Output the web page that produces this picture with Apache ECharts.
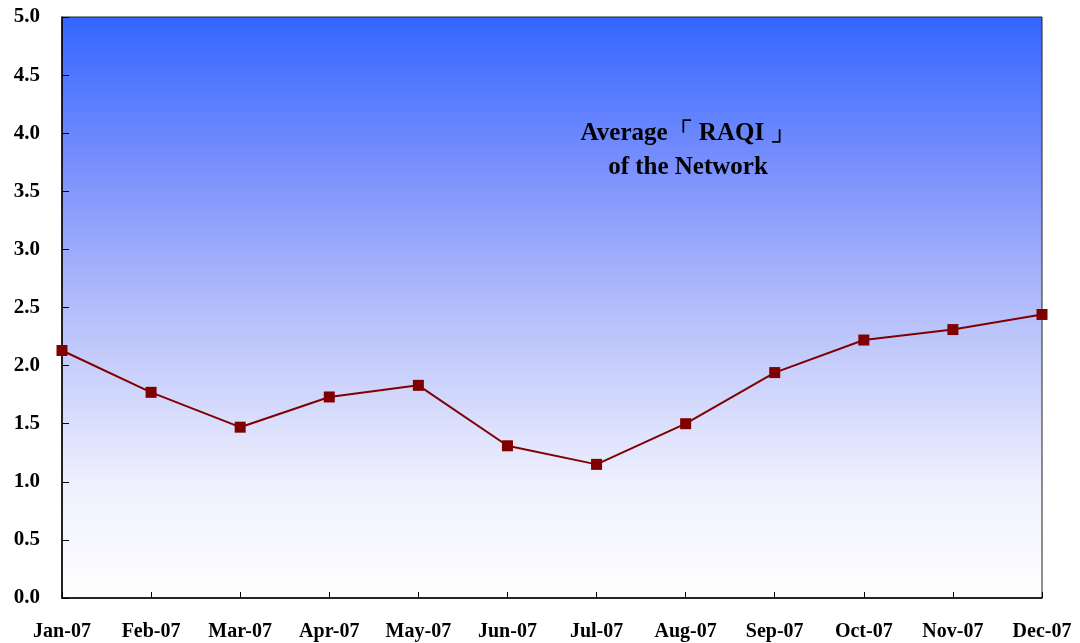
<!DOCTYPE html>
<html>
<head>
<meta charset="utf-8">
<script src="https://cdn.jsdelivr.net/npm/echarts@6/dist/echarts.min.js"></script>
<style>
  html, body { margin: 0; padding: 0; background: #fff; }
  #chart { width: 1080px; height: 643px; }
</style>
</head>
<body>
<div id="chart"></div>
<script>
// data
const months = ["Jan-07", "Feb-07", "Mar-07", "Apr-07", "May-07", "Jun-07",
  "Jul-07", "Aug-07", "Sep-07", "Oct-07", "Nov-07", "Dec-07"];
const raqi = [2.13, 1.77, 1.47, 1.73, 1.83, 1.31, 1.15, 1.50, 1.94, 2.22, 2.31, 2.44];
const titleLines = ["Average「 RAQI 」", "of the Network"];

const font = "'Liberation Serif', 'Times New Roman', serif";

const myChart = echarts.init(document.getElementById("chart"));
const option = {
  backgroundColor: "#fff",
  animation: false,
  title: {
    text: titleLines.join("\n"),
    left: 683,
    top: 112,
    textAlign: "center",
    textStyle: {
      fontFamily: font,
      fontWeight: "bold",
      fontSize: 25,
      lineHeight: 34,
      color: "#000",
    },
  },
  grid: {
    left: 62,
    right: 38,
    top: 17,
    bottom: 45,
    outerBoundsMode: "none",
    show: true,
    borderColor: "#222",
    borderWidth: 1,
    backgroundColor: {
      type: "linear",
      x: 0, y: 0, x2: 0, y2: 1,
      colorStops: [
        { offset: 0, color: "#3366FF" },
        { offset: 0.26, color: "#7A90FC" },
        { offset: 0.5, color: "#B3BDFA" },
        { offset: 0.8, color: "#EEF0FD" },
        { offset: 1, color: "#FFFFFF" },
      ],
    },
  },
  xAxis: {
    type: "category",
    data: months,
    boundaryGap: false,
    axisLine: { lineStyle: { color: "#000", width: 1.5 } },
    axisTick: { inside: true, length: 6, lineStyle: { color: "#000" } },
    axisLabel: {
      margin: 24,
      fontFamily: font,
      fontWeight: "bold",
      fontSize: 20,
      color: "#000",
    },
    splitLine: { show: false },
  },
  yAxis: {
    type: "value",
    min: 0,
    max: 5,
    interval: 0.5,
    axisLine: { show: true, lineStyle: { color: "#000", width: 1.5 } },
    axisTick: { show: true, inside: true, length: 7, lineStyle: { color: "#000" } },
    axisLabel: {
      margin: 22,
      fontFamily: font,
      fontWeight: "bold",
      fontSize: 21,
      color: "#000",
      formatter: (v) => v.toFixed(1),
    },
    splitLine: { show: false },
  },
  series: [
    {
      type: "line",
      data: raqi,
      symbol: "rect",
      symbolSize: 11,
      itemStyle: { color: "#800000" },
      lineStyle: { color: "#800000", width: 2 },
    },
  ],
};
myChart.setOption(option);
</script>
</body>
</html>
